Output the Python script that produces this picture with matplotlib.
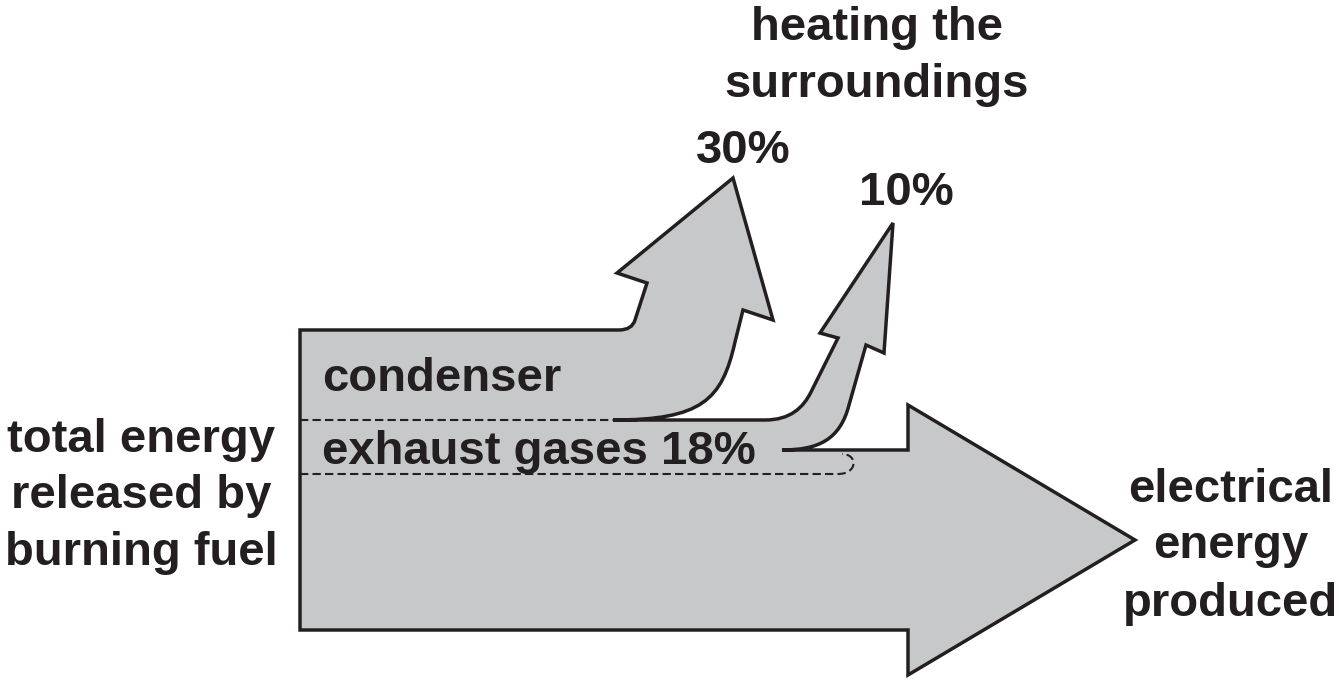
import matplotlib
matplotlib.use("Agg")
import matplotlib.pyplot as plt
from matplotlib.path import Path
from matplotlib.patches import PathPatch

# ---------------- data (percent of total energy) ----------------
flow_names = ["total", "condenser", "exhaust gases", "exhaust to surroundings", "electrical"]
flow_pct = [100, 30, 18, 10, 60]
label_total = ["total energy", "released by", "burning fuel"]
label_top = ["heating the", "surroundings"]
label_elec = ["electrical", "energy", "produced"]
label_condenser = "condenser"
label_exhaust = "exhaust gases 18%"
label_cond_pct = "30%"
label_exh_pct = "10%"

total, cond, exh, exh_out, elec = flow_pct

# ---------------- layout ----------------
plt.rcParams['font.family'] = ['Liberation Sans', 'DejaVu Sans']
plt.rcParams['lines.scale_dashes'] = False
W, H = 1339, 682
fig = plt.figure(figsize=(W / 100, H / 100), dpi=100)
ax = fig.add_axes([0, 0, 1, 1])
ax.set_xlim(0, W)
ax.set_ylim(H, 0)
ax.axis('off')

FILL = '#c7c8ca'
INK = '#231f20'

scale = 3.0            # px per percent
y_top = 330
y_bot = y_top + total * scale
y_cond = y_top + cond * scale
y_exh_bot = y_cond + exh * scale
y_elec = y_cond + exh_out * scale
y_mid = (y_elec + y_bot) / 2
head = 135             # half height of the main arrow head

M, L, C3, C4 = Path.MOVETO, Path.LINETO, Path.CURVE3, Path.CURVE4
segs = [
    (M, (613, y_cond)),
    (L, (765, y_cond)),
    (C4, (790, y_cond)), (C4, (803, y_cond - 12)), (C4, (811, y_cond - 28)),
    (L, (838, 338)),
    (L, (820, 333)),
    (L, (893, 223)),
    (L, (884, 353)),
    (L, (866, 345)),
    (L, (849, 405)),
    (C4, (840, y_elec - 10)), (C4, (818, y_elec)), (C4, (782, y_elec)),
    (L, (908, y_elec)),
    (L, (908, y_mid - head)),
    (L, (1135, y_mid)),
    (L, (908, y_mid + head)),
    (L, (908, y_bot)),
    (L, (300, y_bot)),
    (L, (300, y_top)),
    (L, (619, y_top)),
    (C3, (632, y_top)), (C3, (635, y_top - 10)),
    (L, (647, 283)),
    (L, (617, 273)),
    (L, (733, 178)),
    (L, (773, 320)),
    (L, (743, 310)),
    (L, (735, 342)),
    (C4, (722, 400)), (C4, (702, y_cond)), (C4, (613, y_cond)),
]
codes = [s[0] for s in segs]
verts = [s[1] for s in segs]
ax.add_patch(PathPatch(Path(verts, codes), facecolor=FILL, edgecolor=INK,
                       lw=2.5, joinstyle='miter', capstyle='butt', zorder=2))

# dashed separators
ax.plot([300, 613], [y_cond, y_cond], color=INK, lw=1.5,
        dashes=(6.0, 3.0), zorder=3)
dverts = [(300, y_exh_bot), (838, y_exh_bot),
          (858, y_exh_bot), (858, y_elec + 4), (842, y_elec + 4)]
dcodes = [M, L, C4, C4, C4]
ax.add_patch(PathPatch(Path(dverts, dcodes), facecolor='none', edgecolor=INK,
                       lw=1.5, linestyle=(0, (6.0, 3.0)), zorder=3))

# ---------------- text ----------------
fs = 34
tk = dict(fontsize=fs, fontweight='bold', color=INK, zorder=5)
for txt, yb in zip(label_top, [40, 97]):
    ax.text(877, yb, txt, ha='center', va='baseline', **tk)
ax.text(743, 163, label_cond_pct, ha='center', va='baseline', **tk)
ax.text(906, 205, label_exh_pct, ha='center', va='baseline', **tk)
ax.text(322, 391, label_condenser, ha='left', va='baseline', **tk)
ax.text(322, 464, label_exhaust, ha='left', va='baseline', **tk)
for txt, yb in zip(label_total, [452, 508, 565]):
    ax.text(141, yb, txt, ha='center', va='baseline', **tk)
for txt, yb in zip(label_elec, [502, 558, 616]):
    ax.text(1231, yb, txt, ha='center', va='baseline', **tk)

fig.savefig('out.png', dpi=100)
